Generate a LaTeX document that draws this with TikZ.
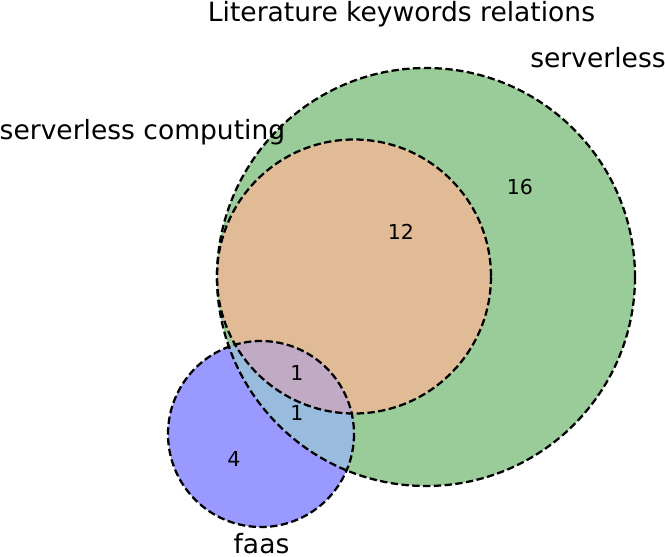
\documentclass[tikz,border=0pt]{standalone}
\usepackage{fontspec}
\setmainfont{DejaVu Sans}
\definecolor{cgreen}{RGB}{153,204,153}
\definecolor{corange}{RGB}{224,187,150}
\definecolor{cblue}{RGB}{153,153,255}
\definecolor{cbluegreen}{RGB}{153,187,221}
\definecolor{ctriple}{RGB}{193,170,196}
\begin{document}
\begin{tikzpicture}[x=0.75pt,y=-0.75pt,
  outline/.style={draw=black,line width=1.7pt,dash pattern=on 5.5pt off 2.6pt},
  biglabel/.style={font=\fontsize{19.9}{24}\selectfont,inner sep=0pt,anchor=base},
  numlabel/.style={font=\fontsize{15.4}{18}\selectfont,inner sep=0pt,anchor=base}]
\useasboundingbox (0,0) rectangle (665,557);
% fills
\fill[cgreen] (426,277) circle[radius=209];
\fill[corange] (354,276.5) circle[radius=137];
\fill[cblue] (261,434) circle[radius=93];
\begin{scope}
  \clip (261,434) circle[radius=93];
  \fill[cbluegreen] (426,277) circle[radius=209];
  \fill[ctriple] (354,276.5) circle[radius=137];
\end{scope}
% outlines
\draw[outline] (426,277) circle[radius=209];
\draw[outline] (354,276.5) circle[radius=137];
\draw[outline] (261,434) circle[radius=93];
% labels
\node[biglabel] (title) at (401.5,21) {Literature keywords relations};
\node[biglabel] (lserverless) at (598,67) {serverless};
\node[biglabel] (lcomputing) at (142.5,139) {serverless computing};
\node[biglabel] (lfaas) at (261.5,553) {faas};
\node[numlabel] (n16) at (520,194.5) {16};
\node[numlabel] (n12) at (401,239.5) {12};
\node[numlabel] (n1a) at (297,380) {1};
\node[numlabel] (n1b) at (297,420.5) {1};
\node[numlabel] (n4) at (234,466.5) {4};
\end{tikzpicture}
\end{document}
